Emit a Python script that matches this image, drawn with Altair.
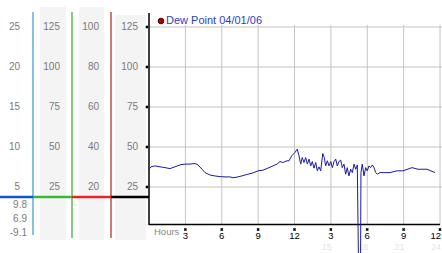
import altair as alt
import pandas as pd

# ---- data ----
hours = [0.00, 0.16, 0.49, 0.91, 1.32, 1.73, 2.14, 2.56, 2.97, 3.38,
         3.79, 4.04, 4.37, 4.62, 5.03, 5.44, 5.86, 6.27, 6.68, 6.93,
         7.34, 7.75, 8.16, 8.58, 8.99, 9.40, 9.81, 10.23, 10.56, 10.80,
         11.05, 11.38, 11.55, 11.77, 12.04, 12.23, 12.37, 12.51, 12.64, 12.78,
         12.92, 13.06, 13.20, 13.34, 13.47, 13.61, 13.75, 13.88, 14.02, 14.16,
         14.33, 14.46, 14.57, 14.71, 14.85, 14.99, 15.12, 15.26, 15.40, 15.53,
         15.67, 15.81, 15.94, 16.08, 16.22, 16.35, 16.49, 16.63, 16.77, 16.91,
         17.05, 17.18, 17.27, 17.45, 17.48, 17.59, 17.73, 17.87, 18.00, 18.14,
         18.28, 18.42, 18.56, 18.70, 18.83, 19.05, 19.88, 20.45, 20.95, 21.69,
         22.19, 22.93, 23.59]
dew_point = [36.1, 37.6, 38.2, 37.6, 37.1, 36.5, 37.6, 38.8, 39.3, 39.3,
             39.7, 38.8, 36.1, 34.0, 32.5, 31.9, 31.5, 31.3, 31.3, 30.8,
             31.3, 32.1, 33.0, 33.8, 35.1, 35.5, 36.8, 38.2, 39.3, 40.9,
             40.3, 41.4, 41.4, 44.5, 46.6, 48.7, 44.5, 39.3, 43.4, 40.3,
             43.4, 39.3, 42.4, 38.2, 40.9, 36.8, 40.3, 35.1, 37.6, 35.1,
             45.9, 43.4, 38.2, 41.4, 38.2, 40.9, 37.1, 40.9, 42.4, 38.2,
             40.9, 41.8, 37.1, 39.3, 33.0, 37.1, 31.9, 36.1, 34.0, 39.3,
             36.1, 38.8, -18.0, -18.0, 34.0, 39.3, 31.9, 37.1, 35.1, 38.2,
             37.1, 38.8, 37.1, 34.0, 33.0, 34.0, 34.0, 35.1, 35.1, 37.1,
             36.1, 36.1, 34.0]

grid_values = [25, 50, 75, 100, 125]
col1_labels = [5, 10, 15, 20, 25]
col2_labels = [25, 50, 75, 100, 125]
col3_labels = [20, 40, 60, 80, 100]
col4_labels = [25, 50, 75, 100, 125]
hour_ticks = [3, 6, 9, 12, 15, 18, 21, 24]
hour_tick_labels = ["3", "6", "9", "12", "3", "6", "9", "12"]
faint_ticks = [15, 18, 21, 24]
faint_labels = ["15", "18", "21", "24"]
current_values = ["9.8", "6.9", "-9.1"]
legend_label = "Dew Point 04/01/06"
x_title = "Hours"

FONT = "Liberation Sans"

series = pd.DataFrame({"h": hours, "v": dew_point})
rows = pd.DataFrame({"grid": grid_values, "c1": col1_labels, "c2": col2_labels,
                     "c3": col3_labels, "c4": col4_labels})
ticks = pd.DataFrame({"h": hour_ticks, "lab": hour_tick_labels})
faint = pd.DataFrame({"h": faint_ticks, "lab": faint_labels})
one = pd.DataFrame({"k": [0]})

xs = alt.Scale(domain=[0, 24], nice=False, zero=False)
ys = alt.Scale(domain=[0, 133.75], nice=False, zero=False)


def X(f):
    return alt.X(f, scale=xs, axis=None)


def Y(f):
    return alt.Y(f, scale=ys, axis=None)


def rect(x, x2, y, y2, color):
    return alt.Chart(one).mark_rect(color=color).encode(
        x=alt.value(x), x2=alt.value(x2), y=alt.value(y), y2=alt.value(y2))


def seg(x, x2, y, y2, color, w):
    return alt.Chart(one).mark_rule(color=color, strokeWidth=w).encode(
        x=alt.value(x), x2=alt.value(x2), y=alt.value(y), y2=alt.value(y2))


layers = []
# grey label column backgrounds
layers += [rect(-109, -83, -6, 227, "#f4f4f4"),
           rect(-70, -45, -6, 227, "#f4f4f4"),
           rect(-34, -3, 2, 227, "#f4f4f4")]

# grid
layers.append(alt.Chart(rows).mark_rule(color="#c4c4c4", strokeWidth=1).encode(
    y=Y("grid:Q"), x=alt.value(0), x2=alt.value(293)))
layers.append(alt.Chart(ticks).mark_rule(color="#c4c4c4", strokeWidth=1).encode(
    x=X("h:Q"), y=alt.value(12), y2=alt.value(211.5)))

# coloured scale separators
layers += [seg(-116, -116, -1, 222, "#3399cc", 1.2),
           seg(-77, -77, -1, 225, "#33aa33", 1.2),
           seg(-38, -38, -1, 225, "#aa2222", 1.2),
           seg(0, 0, 0, 212, "#000000", 1.5),
           seg(0, 291, 211.5, 211.5, "#000000", 1.5),
           seg(-149, -116, 184, 184, "#1155dd", 2.5),
           seg(-116, -77, 184, 184, "#33bb33", 2.5),
           seg(-77, -38, 184, 184, "#ee2222", 2.5),
           seg(-38, 0, 184, 184, "#000000", 2.5)]

# label columns
for col, xpos in [("c1", -129), ("c2", -89), ("c3", -50), ("c4", -11)]:
    layers.append(alt.Chart(rows).mark_text(
        align="right", baseline="middle", font=FONT, fontSize=10, color="#7a7a7a"
    ).encode(y=Y("grid:Q"), x=alt.value(xpos), text=alt.Text(f"{col}:Q")))

# current readings under the coloured bar
for i, val in enumerate(current_values):
    layers.append(alt.Chart(one).mark_text(
        align="right", baseline="middle", font=FONT, fontSize=10, color="#7a7a7a"
    ).encode(x=alt.value(-122), y=alt.value(192 + 14 * i), text=alt.value(val)))

# y tick markers
layers.append(alt.Chart(rows).mark_point(
    shape="cross", angle=45, filled=True, size=10, color="#000000", opacity=1
).encode(y=Y("grid:Q"), x=alt.value(-2)))

# x tick markers & labels
layers.append(alt.Chart(ticks).mark_point(
    shape="cross", angle=45, filled=True, size=10, color="#000000", opacity=1
).encode(x=X("h:Q"), y=alt.value(216.5)))
layers.append(alt.Chart(ticks).transform_filter("datum.h < 24").mark_text(
    baseline="middle", font=FONT, fontSize=9.5, color="#000000"
).encode(x=X("h:Q"), y=alt.value(222.5), text="lab:N"))
layers.append(alt.Chart(ticks).transform_filter("datum.h >= 24").mark_text(
    align="right", baseline="middle", font=FONT, fontSize=9.5, color="#000000", dx=1
).encode(x=X("h:Q"), y=alt.value(222.5), text="lab:N"))
layers.append(alt.Chart(faint).mark_text(
    align="right", baseline="middle", font=FONT, fontSize=9, color="#e4e4e4", dx=1
).encode(x=X("h:Q"), y=alt.value(234), text="lab:N"))
layers.append(alt.Chart(one).mark_text(
    align="left", baseline="middle", font=FONT, fontSize=9.5, color="#888888"
).encode(x=alt.value(5), y=alt.value(219), text=alt.value(x_title)))

# the series
layers.append(alt.Chart(series).mark_line(
    color="#1c1ca0", strokeWidth=1, clip=False
).encode(x=X("h:Q"), y=Y("v:Q")))

# legend
layers.append(alt.Chart(one).mark_point(
    shape="circle", filled=True, size=32, color="#b00000", stroke="#550000",
    strokeWidth=1, opacity=1
).encode(x=alt.value(12), y=alt.value(8)))
layers.append(alt.Chart(one).mark_text(
    align="left", baseline="middle", font=FONT, fontSize=11, color="#2a3fc8"
).encode(x=alt.value(17), y=alt.value(8), text=alt.value(legend_label)))

chart = alt.layer(*layers).properties(
    width=291, height=214,
    padding={"left": 149, "top": 13, "right": 2, "bottom": 26},
    autosize="none", background="#ffffff"
).configure_view(stroke=None)

chart.save("out.html", embed_options={"renderer": "svg", "actions": False})
